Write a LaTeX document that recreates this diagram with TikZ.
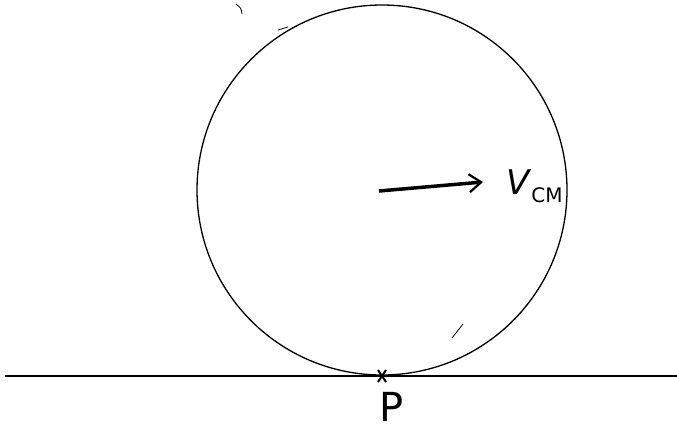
\documentclass[tikz,border=0pt]{standalone}
\usepackage{fontspec}
\setsansfont{DejaVu Sans}
\usetikzlibrary{arrows.meta}
\begin{document}
\begin{tikzpicture}[x=1pt,y=-1pt,
  ink/.style={draw=black,line width=1.3pt},
  lbl/.style={inner sep=0pt,font=\sffamily}]
\useasboundingbox[fill=white] (0,0) rectangle (677,432);
% circle
\node[circle,ink,minimum size=370pt,inner sep=0pt] (wheel) at (382,190) {};
% ground
\coordinate (gl) at (5,376);
\coordinate (gr) at (677,376);
\draw[line width=1.6pt] (gl) -- (gr);
% contact point
\coordinate (p) at (382,376);
\draw[line width=2pt] ([shift={(-4,-6)}]p) -- ([shift={(4,6)}]p)
  ([shift={(4,-6)}]p) -- ([shift={(-4,6)}]p);
\node[lbl,font=\sffamily\fontsize{40}{40}\selectfont,anchor=north] (plabel) at (392,392) {P};
% velocity arrow
\coordinate (cm) at (379,191);
\coordinate (tip) at (483,182);
\draw[line width=3.5pt,-{Straight Barb[length=12pt,width=18pt,line width=2.2pt]}] (cm) -- (tip);
\node[lbl,anchor=west] (vcm) at (506,186) {\fontsize{34}{34}\selectfont\textit{V}\raisebox{-8pt}{\fontsize{20}{20}\selectfont CM}};
% stray marks
\draw[line width=0.8pt] (236,4) .. controls (241,8) .. (242,14);
\draw[line width=0.8pt] (278,30) -- (288,27);
\draw[line width=0.8pt] (452,338) -- (463,324);
\end{tikzpicture}
\end{document}
